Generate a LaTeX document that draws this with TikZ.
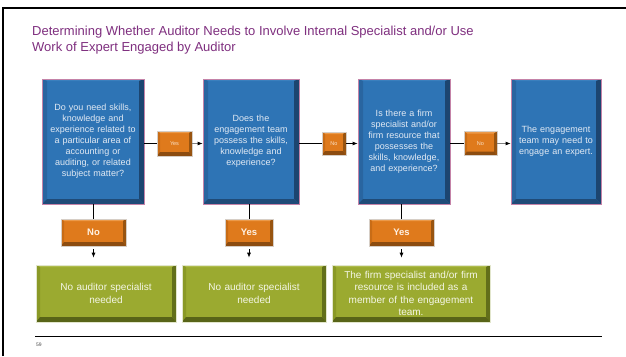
\documentclass[tikz,border=0pt]{standalone}
\usepackage{fontspec}
\setmainfont{Liberation Sans}
\usetikzlibrary{arrows.meta}

\definecolor{titlecol}{HTML}{7F2F7F}
\definecolor{bluefc}{HTML}{2E74B5}
\definecolor{bluetp}{HTML}{3B80BE}
\definecolor{bluelf}{HTML}{2965A0}
\definecolor{bluert}{HTML}{1C4570}
\definecolor{bluebt}{HTML}{1F4B78}
\definecolor{blueol}{HTML}{C483A8}
\definecolor{bluetx}{HTML}{E2EAF4}
\definecolor{orgfc}{HTML}{DF7A1C}
\definecolor{orgtp}{HTML}{EC9A4A}
\definecolor{orglf}{HTML}{C86C16}
\definecolor{orgrt}{HTML}{985410}
\definecolor{orgbt}{HTML}{8C4C10}
\definecolor{orgol}{HTML}{D6CEC6}
\definecolor{orgtx}{HTML}{FFF2E4}
\definecolor{grnfc}{HTML}{9BAA30}
\definecolor{grntp}{HTML}{AFBC4C}
\definecolor{grnlf}{HTML}{8A9926}
\definecolor{grnrt}{HTML}{626F1A}
\definecolor{grnbt}{HTML}{586418}
\definecolor{grnol}{HTML}{E2E6CC}
\definecolor{grntx}{HTML}{F4F6E6}

% bevelled face: colours of top, left, right, bottom rims and their depths
\newcommand\bevelrim[7]{%
  \coordinate (bvA) at (path picture bounding box.north west);
  \coordinate (bvB) at (path picture bounding box.north east);
  \coordinate (bvC) at (path picture bounding box.south east);
  \coordinate (bvD) at (path picture bounding box.south west);
  \coordinate (bva) at ([shift={(#6,-#5)}]bvA);
  \coordinate (bvb) at ([shift={(-#6,-#5)}]bvB);
  \coordinate (bvc) at ([shift={(-#6,#7)}]bvC);
  \coordinate (bvd) at ([shift={(#6,#7)}]bvD);
  \fill[#1] (bvA)--(bvB)--(bvb)--(bva)--cycle;
  \fill[#2] (bvA)--(bva)--(bvd)--(bvD)--cycle;
  \fill[#3] (bvB)--(bvb)--(bvc)--(bvC)--cycle;
  \fill[#4] (bvD)--(bvd)--(bvc)--(bvC)--cycle;
}

\tikzset{
  x=1pt, y=-1pt,
  question/.style={draw=blueol, line width=0.8pt, fill=bluefc, inner sep=0pt,
    minimum height=125pt, align=center, text=bluetx,
    font=\fontsize{9}{11}\selectfont,
    path picture={\bevelrim{bluetp}{bluelf}{bluert}{bluebt}{2pt}{5pt}{5pt}}},
  tag/.style={draw=orgol, line width=0.6pt, fill=orgfc, inner sep=0pt,
    text=orgtx,
    path picture={\bevelrim{orgtp}{orglf}{orgrt}{orgbt}{2pt}{3pt}{4pt}}},
  smalltag/.style={tag, font=\fontsize{5.5}{6}\selectfont, text=orgtx!85!orgfc},
  bigtag/.style={tag, minimum height=27pt, font=\bfseries\fontsize{9.5}{11}\selectfont},
  outcome/.style={draw=grnol, line width=0.6pt, fill=grnfc, inner sep=0pt,
    minimum height=57pt, align=center, text=grntx,
    font=\fontsize{10}{12.6}\selectfont,
    path picture={\bevelrim{grntp}{grnlf}{grnrt}{grnbt}{2pt}{4pt}{5pt}}},
  heading/.style={anchor=base west, inner sep=0pt, text=titlecol,
    font=\fontsize{13}{16}\selectfont},
  link/.style={black, line width=0.8pt},
  flow/.style={link, -{Latex[length=5pt,width=4pt,color=black]}},
}

\begin{document}
\begin{tikzpicture}
\useasboundingbox (0,0) rectangle (626,356);
\fill[white] (0,0) rectangle (626,356);

% slide frame
\draw[black, line width=1.6pt] (3,356) -- (3,8) -- (626,8);

% heading
\node[heading] (title1) at (32,35) {Determining Whether Auditor Needs to Involve Internal Specialist and/or Use};
\node[heading] (title2) at (32,51) {Work of Expert Engaged by Auditor};

% question boxes
\node[question, minimum width=102pt, text width=90pt] (q1) at (93,141.5)
  {Do you need skills,\\ knowledge and\\ experience related to\\ a particular area of\\ accounting or\\ auditing, or related\\ subject matter?};
\node[question, minimum width=96pt, text width=86pt] (q2) at (251,141.5)
  {Does the\\ engagement team\\ possess the skills,\\ knowledge and\\ experience?};
\node[question, minimum width=92pt, text width=84pt] (q3) at (404,141.5)
  {Is there a firm\\ specialist and/or\\ firm resource that\\ possesses the\\ skills, knowledge,\\ and experience?};
\node[question, minimum width=90pt, text width=82pt] (q4) at (556,141.5)
  {The engagement\\ team may need to\\ engage an expert.};

% answers along the row
\node[smalltag, minimum width=35pt, minimum height=25pt] (a1) at (174.5,143.5) {Yes};
\node[smalltag, minimum width=24pt, minimum height=23pt] (a2) at (334,143.5) {No};
\node[smalltag, minimum width=33pt, minimum height=24pt] (a3) at (480.5,143.5) {No};

% answers below
\node[bigtag, minimum width=65pt] (n1) at (93.5,232.5) {No};
\node[bigtag, minimum width=48pt] (n2) at (249,232.5) {Yes};
\node[bigtag, minimum width=65pt] (n3) at (401.5,232.5) {Yes};

% outcomes
\node[outcome, minimum width=140pt, text width=130pt] (g1) at (106,293.5)
  {No auditor specialist\\ needed};
\node[outcome, minimum width=144pt, text width=134pt] (g2) at (254,293.5)
  {No auditor specialist\\ needed};
\node[outcome, minimum width=158pt, text width=150pt] (g3) at (411,293.5)
  {The firm specialist and/or firm\\ resource is included as a\\ member of the engagement\\ team.};

% connectors along the row
\draw[link] (a1.west -| q1.east) -- (a1.west);
\draw[flow, draw=gray] (a1.east) -- (a1.east -| q2.west);
\draw[link] (a2.west -| q2.east) -- (a2.west);
\draw[flow] (a2.east) -- (a2.east -| q3.west);
\draw[link] (a3.west -| q3.east) -- (a3.west);
\draw[flow, draw=gray] (a3.east) -- (a3.east -| q4.west);

% connectors downwards
\draw[link] (n1.north |- q1.south) -- (n1.north);
\draw[link] (n2.north |- q2.south) -- (n2.north);
\draw[link] (n3.north |- q3.south) -- (n3.north);
\draw[flow, shorten <=3pt, shorten >=7pt] (n1.south) -- (n1.south |- g1.north);
\draw[flow, shorten <=3pt, shorten >=7pt] (n2.south) -- (n2.south |- g2.north);
\draw[flow, shorten <=3pt, shorten >=7pt] (n3.south) -- (n3.south |- g3.north);

% footer
\draw[black, line width=0.9pt] (35,336) -- (602,336);
\node[anchor=base west, inner sep=0pt, text=black!70, font=\fontsize{5}{6}\selectfont]
  (pageno) at (36,346) {59};
\end{tikzpicture}
\end{document}
